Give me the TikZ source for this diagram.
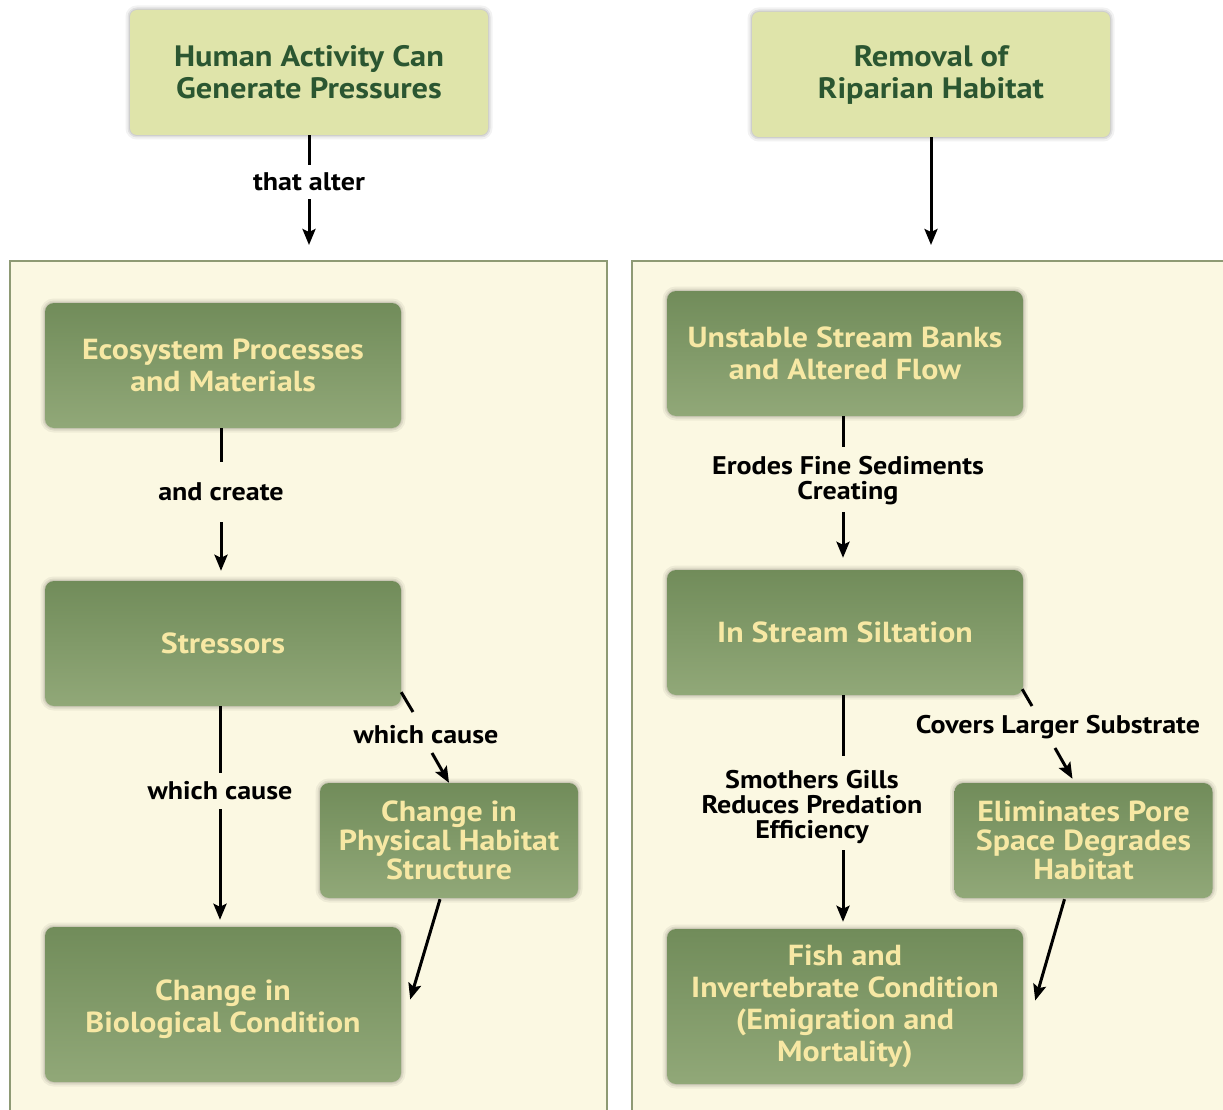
\documentclass[tikz,border=0pt]{standalone}
\usepackage{fontspec}
\setmainfont{PT Sans}[FakeStretch=1.1]
\usetikzlibrary{arrows.meta,shadows,calc}
\definecolor{panelfill}{HTML}{FBF8E2}
\definecolor{panelline}{HTML}{8E9A74}
\definecolor{topfill}{HTML}{DFE4AA}
\definecolor{toptext}{HTML}{2B5631}
\definecolor{boxtop}{HTML}{718C5A}
\definecolor{boxbot}{HTML}{91A878}
\definecolor{boxtext}{HTML}{F7E8A4}
\tikzset{
  halo/.style={general shadow={draw=black, line width=9pt, opacity=0.05},
               general shadow={draw=black, line width=5pt, opacity=0.07},
               general shadow={draw=black, line width=2pt, opacity=0.08}},
  topbox/.style={rectangle, rounded corners=7pt, fill=topfill, halo,
    minimum width=358pt, minimum height=125pt, align=center, text=toptext,
    font=\bfseries\fontsize{29.5}{32}\selectfont},
  greenbox/.style={rectangle, rounded corners=9pt, top color=boxtop, bottom color=boxbot,
    halo, align=center, text=boxtext, inner sep=2pt,
    font=\bfseries\fontsize{29}{32}\selectfont},
  bigbox/.style={greenbox, minimum width=356pt, minimum height=125pt},
  tallbox/.style={greenbox, minimum width=356pt, minimum height=155pt},
  smallbox/.style={greenbox, minimum width=258pt, minimum height=115pt,
    font=\bfseries\fontsize{29}{29}\selectfont},
  panel/.style={draw=panelline, fill=panelfill, line width=1.2pt},
  lab/.style={align=center, font=\bfseries\fontsize{25.5}{25}\selectfont, inner xsep=2pt},
  plain/.style={line width=3pt},
  arr/.style={line width=3pt, -{Stealth[length=16pt,width=13pt,inset=3pt]}},
}
\begin{document}
\begin{tikzpicture}[x=1pt,y=-1pt]
\useasboundingbox (0,0) rectangle (1223,1110);
\clip (0,0) rectangle (1223,1110);
\fill[white] (0,0) rectangle (1223,1110);

% the two panels, open at the bottom and right
\draw[panel] (10,1120) -- (10,261) -- (607,261) -- (607,1120);
\draw[panel] (632,1120) -- (632,261) -- (1240,261) -- (1240,1120);

% ---------- left column ----------
\node[topbox] (hum) at (309,72.5) {Human Activity Can\\Generate Pressures};
\node[lab, inner ysep=8pt] (alter) at (309,182) {that alter};
\coordinate (lin) at (309,245);
\draw[plain] (hum.south) -- (alter.north);
\draw[arr] (alter.south) -- (lin);

\node[bigbox] (eco) at (223,365.5) {Ecosystem Processes\\and Materials};
\node[bigbox] (str) at (223,643.5) {Stressors};
\node[smallbox] (phys) at (449,840.5) {Change in\\Physical Habitat\\Structure};
\node[tallbox] (bio) at (223,1004.5) {\rule{0pt}{31pt}Change in\\Biological Condition};

\node[lab, inner ysep=21pt] (create) at (221,492) {and create};
\draw[plain] (eco.south -| create.north) -- (create.north);
\draw[arr, shorten >=10pt] (create.south) -- (create.south |- str.north);

\node[lab, inner ysep=9pt] (wc1) at (220,791) {which cause};
\draw[plain] (str.south -| wc1.north) -- (wc1.north);
\draw[arr, shorten >=7pt] (wc1.south) -- (wc1.south |- bio.north);

\node[lab, inner ysep=9pt] (wc2) at (426,735) {which cause};
\coordinate (s2) at ($(str.south east)+(0,-14)$);
\coordinate (s2a) at (413,712);
\coordinate (s2b) at (432,753);
\draw[plain] (s2) -- (s2a);
\draw[arr] (s2b) -- (phys.north);
\coordinate (p2) at ($(phys.south)+(-9,1)$);
\coordinate (b2) at ($(bio.east)+(9,-5)$);
\draw[arr] (p2) -- (b2);

% ---------- right column ----------
\node[topbox] (rem) at (931,74.5) {Removal of\\Riparian Habitat};
\coordinate (rin) at (931,245);
\draw[arr] (rem.south) -- (rin);

\node[bigbox] (bank) at (845,353.5) {Unstable Stream Banks\\and Altered Flow};
\node[bigbox] (silt) at (845,632.5) {In Stream Siltation};
\node[smallbox] (elim) at (1083.5,840.5) {Eliminates Pore\\Space Degrades\\Habitat};
\node[tallbox] (fish) at (845,1006.5) {Fish and\\Invertebrate Condition\\(Emigration and\\Mortality)};

\node[lab, inner ysep=7pt] (erode) at (848,481) {Erodes Fine Sediments\\Creating};
\coordinate (e1a) at (843,447);
\coordinate (e1b) at (843,512);
\draw[plain] (bank.south -| e1a) -- (e1a);
\draw[arr, shorten >=12pt] (e1b) -- (silt.north -| e1b);

\node[lab, inner ysep=6pt] (smoth) at (812,807) {Smothers Gills\\Reduces Predation\\Efficiency};
\coordinate (m1a) at (843,756);
\coordinate (m1b) at (843,850);
\draw[plain] (silt.south -| m1a) -- (m1a);
\draw[arr, shorten >=7pt] (m1b) -- (fish.north -| m1b);

\node[lab, inner ysep=6pt] (cover) at (1058,727) {Covers Larger Substrate};
\coordinate (s3) at ($(silt.south east)+(-1,-6)$);
\coordinate (s3a) at (1032,706);
\coordinate (s3b) at (1055,748);
\draw[plain] (s3) -- (s3a);
\coordinate (e3) at ($(elim.north)+(-11,-4)$);
\draw[arr] (s3b) -- (e3);
\coordinate (p3) at ($(elim.south)+(-19,1)$);
\coordinate (f3) at ($(fish.east)+(12,-6)$);
\draw[arr] (p3) -- (f3);
\end{tikzpicture}
\end{document}
